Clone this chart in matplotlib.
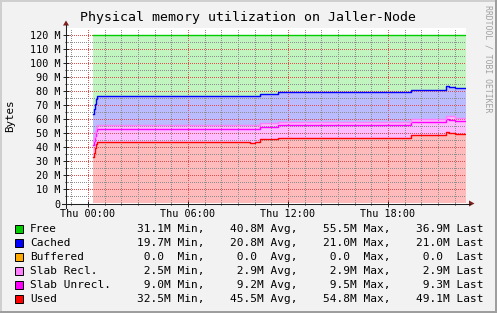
import numpy as np
import matplotlib
matplotlib.use("Agg")
import matplotlib.pyplot as plt
from matplotlib.patches import Rectangle, Polygon
from matplotlib.lines import Line2D

plt.rcParams['font.family'] = ['DejaVu Sans Mono']

W, H = 497, 313

# time of each sample (hours since Thu 00:00), values in MB (stacked order: used first)
hours = [0.30, 0.36, 0.42, 0.48, 0.54, 6.22, 9.72, 10.02, 10.32, 11.42, 19.38, 21.48, 21.66, 22.02, 22.68]
used = [33.0, 35.8, 39.4, 42.4, 43.7, 44.2, 43.5, 44.2, 45.8, 46.5, 48.7, 50.8, 50.1, 49.4, 49.4]
slab_unrecl = [9.0, 9.0, 9.1, 9.1, 9.2, 9.0, 9.4, 9.0, 9.0, 9.3, 9.2, 9.3, 9.5, 9.2, 9.2]
slab_recl = [2.5, 2.5, 2.6, 2.7, 2.8, 2.8, 2.8, 2.8, 2.6, 2.6, 2.6, 2.5, 2.6, 2.6, 2.6]
buffered = [0.0] * 15
cached = [19.7, 19.8, 20.0, 20.4, 21.0, 20.8, 20.8, 20.8, 20.7, 21.0, 20.7, 21.0, 21.0, 21.2, 21.2]
free = [55.8, 52.9, 48.9, 45.4, 43.3, 43.2, 43.5, 43.2, 41.9, 40.6, 38.8, 36.4, 36.8, 37.6, 37.6]

# legend
names = ["Free", "Cached", "Buffered", "Slab Recl.", "Slab Unrecl.", "Used"]
colors = ["#00CC00", "#0000FF", "#FFAA00", "#FF80FF", "#FF00FF", "#FF0000"]
mins = ["31.1M", "19.7M", "0.0 ", "2.5M", "9.0M", "32.5M"]
avgs = ["40.8M", "20.8M", "0.0 ", "2.9M", "9.2M", "45.5M"]
maxs = ["55.5M", "21.0M", "0.0 ", "2.9M", "9.5M", "54.8M"]
lasts = ["36.9M", "21.0M", "0.0 ", "2.9M", "9.3M", "49.1M"]

yticks = [0, 10, 20, 30, 40, 50, 60, 70, 80, 90, 100, 110, 120]
ytick_labels = ["0", "10 M", "20 M", "30 M", "40 M", "50 M", "60 M", "70 M",
                "80 M", "90 M", "100 M", "110 M", "120 M"]
xticks = [0, 6, 12, 18]
xtick_labels = ["Thu 00:00", "Thu 06:00", "Thu 12:00", "Thu 18:00"]


def fx(x):
    return x / W


def fy(y):
    return 1 - y / H


fig = plt.figure(figsize=(W / 100, H / 100), dpi=100, facecolor="#F2F2F2")
ax = fig.add_axes([fx(66), fy(203.5), fx(466) - fx(66), fy(28) - fy(203.5)])
ax.set_facecolor("white")
ax.set_xlim(-1.32, 22.68)
ax.set_ylim(0, 125.2)

layers = [
    (used, "#FFBBBB", "#FF0000"),
    (slab_unrecl, "#FFBBFF", "#FF00FF"),
    (slab_recl, "#FFBBFF", "#FF80FF"),
    (buffered, "#FFDDAA", None),
    (cached, "#BBBBFF", "#0000FF"),
    (free, "#C0F5C0", "#00CC00"),
]
base = np.zeros(len(hours))
for vals, fillc, linec in layers:
    top = base + np.array(vals)
    ax.fill_between(hours, base, top, step="post", color=fillc, lw=0, zorder=1)
    if linec:
        ax.step(hours, top, where="post", color=linec, lw=1.0, zorder=3)
    base = top

# grid
ax.set_xticks(xticks)
ax.set_xticklabels(xtick_labels)
ax.set_xticks(np.arange(-1, 23, 1), minor=True)
ax.set_yticks(yticks)
ax.set_yticklabels(ytick_labels)
ax.set_yticks(np.arange(5, 125, 10), minor=True)
ax.set_axisbelow(False)
ax.grid(which="minor", color=(0.56, 0.56, 0.56, 0.38), lw=0.72, ls=(0, (1, 1.8)),
        antialiased=False)
ax.grid(which="major", color=(0.87, 0.31, 0.31, 0.38), lw=0.72, ls=(0, (1, 1.8)),
        antialiased=False)
ax.tick_params(which="major", direction="inout", length=4, width=0.7, color="#1F1F1F",
               labelsize=7.3, pad=2.0)
ax.tick_params(which="minor", direction="inout", length=2, width=0.7, color="#1F1F1F")
for s in ax.spines.values():
    s.set_visible(False)

# axis lines with arrows
fig.add_artist(Line2D([fx(62), fx(470)], [fy(203.5), fy(203.5)], color="#1F1F1F", lw=0.75))
fig.add_artist(Polygon([(fx(469), fy(200.5)), (fx(474.5), fy(203.5)), (fx(469), fy(206.5))],
                       closed=True, color="#7F1F1F", lw=0))
fig.add_artist(Line2D([fx(66), fx(66)], [fy(207.5), fy(25)], color="#1F1F1F", lw=0.75))
fig.add_artist(Polygon([(fx(63), fy(25.5)), (fx(66), fy(20.5)), (fx(69), fy(25.5))],
                       closed=True, color="#7F1F1F", lw=0))

# texts
fig.text(fx(248.5), fy(18), "Physical memory utilization on Jaller-Node",
         ha="center", va="center", fontsize=9.5)
fig.text(fx(10), fy(115.7), "Bytes", rotation=90, ha="center", va="center", fontsize=7.8)
fig.text(fx(488), fy(5), "RRDTOOL / TOBI OETIKER", rotation=270, ha="center", va="top",
         fontsize=5.9, color="#A0A0A0")

for i, name in enumerate(names):
    y = 229.3 + 14 * i
    fig.add_artist(Rectangle((fx(15), fy(y + 4)), 8 / W, 8 / H, facecolor=colors[i],
                             edgecolor="black", lw=0.7))
    fig.text(fx(30), fy(y), name, va="center", fontsize=8)
    fig.text(fx(137), fy(y), f"{mins[i]:>5} Min,", va="center", fontsize=8)
    fig.text(fx(230), fy(y), f"{avgs[i]:>5} Avg,", va="center", fontsize=8)
    fig.text(fx(323), fy(y), f"{maxs[i]:>5} Max,", va="center", fontsize=8)
    fig.text(fx(416), fy(y), f"{lasts[i]:>5} Last", va="center", fontsize=8)

# 3d frame
fig.add_artist(Line2D([0, 1], [fy(1), fy(1)], color="#CFCFCF", lw=1.44))
fig.add_artist(Line2D([fx(1), fx(1)], [0, 1], color="#CFCFCF", lw=1.44))
fig.add_artist(Line2D([0, 1], [fy(312), fy(312)], color="#9E9E9E", lw=1.44))
fig.add_artist(Line2D([fx(496), fx(496)], [0, 1], color="#9E9E9E", lw=1.44))

fig.savefig("out.png", dpi=100, facecolor=fig.get_facecolor())
